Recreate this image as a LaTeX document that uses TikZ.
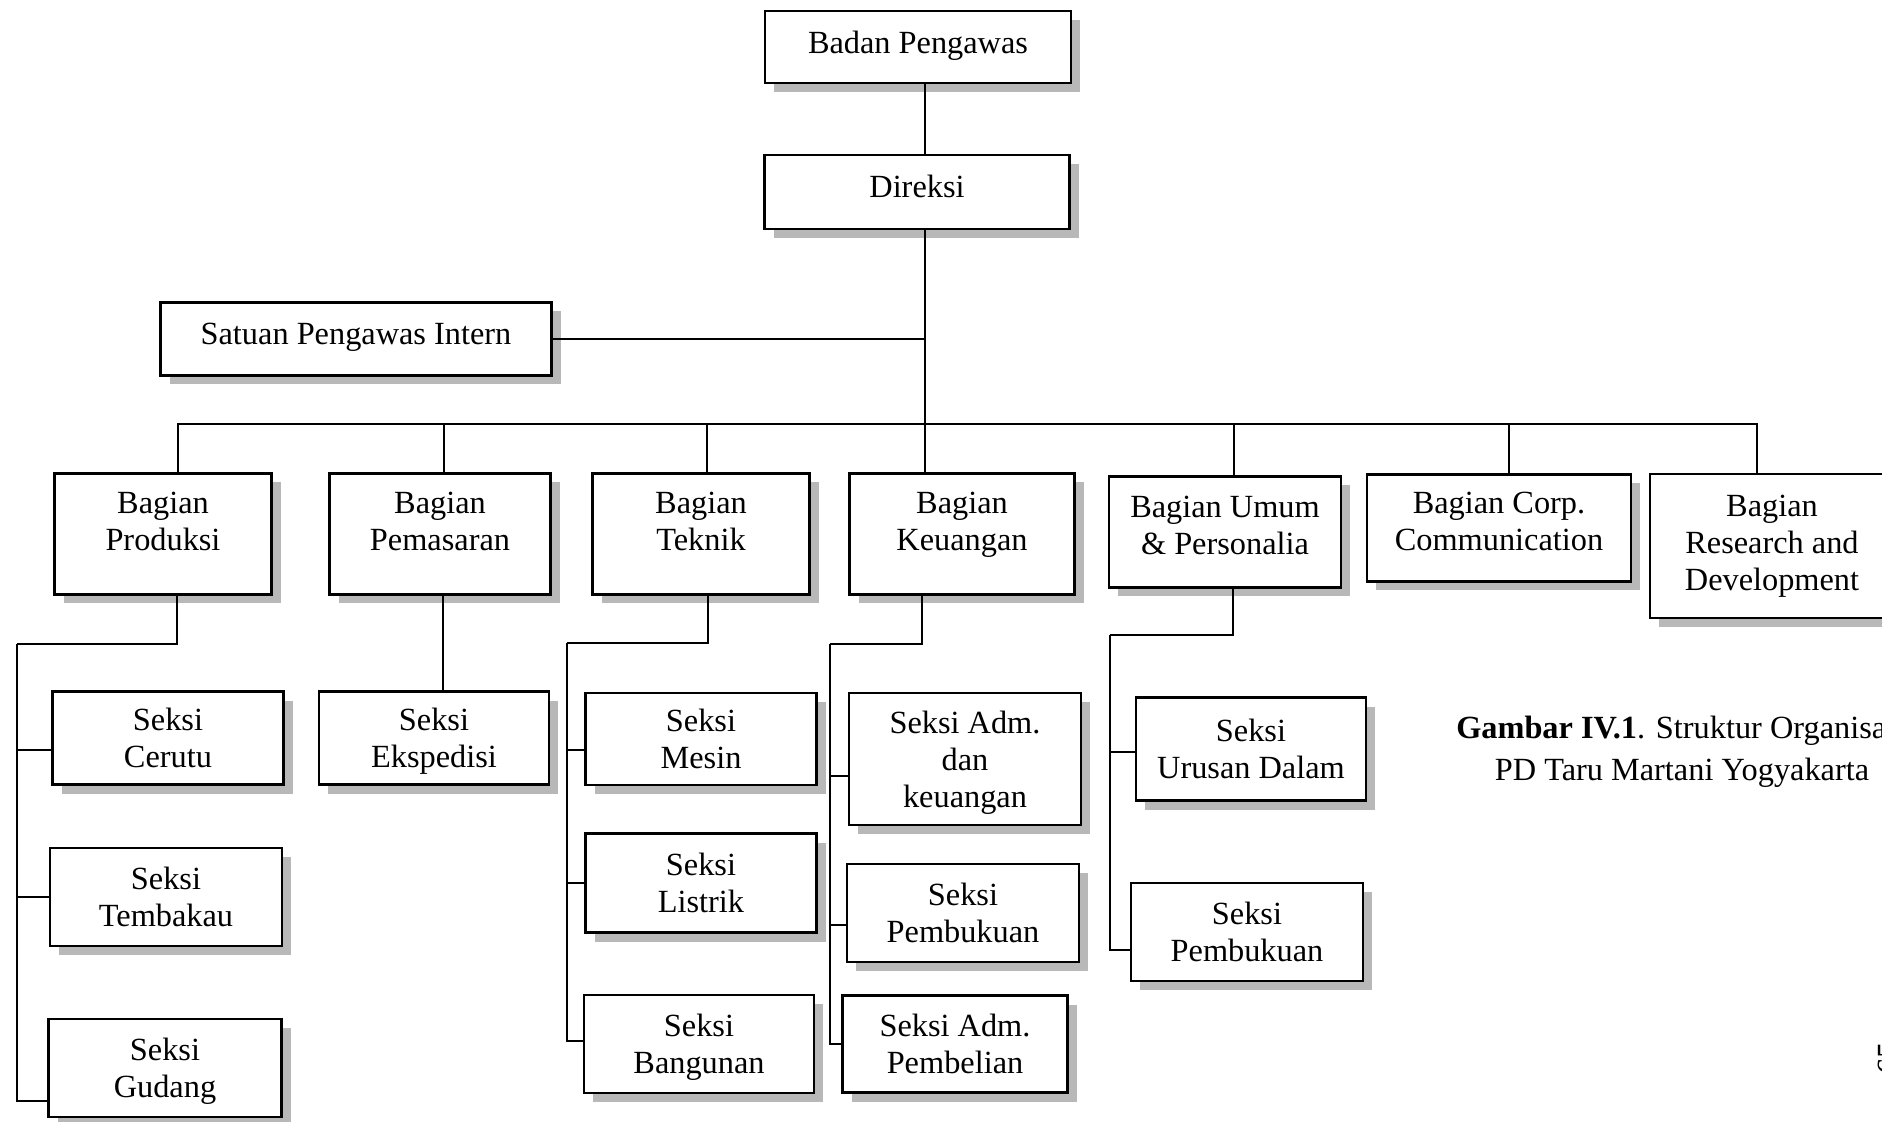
\documentclass[tikz,border=0pt]{standalone}
\usepackage{fontspec}
\setmainfont{Liberation Serif}
\usetikzlibrary{shadows,calc}

\begin{document}
\begin{tikzpicture}[x=.1mm,y=-.1mm,
        box/.style 2 args={draw,line width=.75pt,fill=white,align=center,inner sep=0pt,
            minimum width=#1*.1mm,minimum height=#2*.1mm,text depth=0pt,
            font=\fontsize{9.2}{10.5}\selectfont,
            drop shadow={shadow xshift=.9mm,shadow yshift=-.9mm,fill=black!28,opacity=1}},
        up/.style={text depth=#1},
        up/.default=2.5mm,
        link/.style={line width=.6pt}]
    \useasboundingbox (0,0) rectangle (1882,1122);
    % pimpinan
    \node[box={306}{72},up=1mm] (badan) at (918,47) {Badan Pengawas};
    \node[box={305}{74},up=1.2mm] (direksi) at (917,192) {Direksi};
    \node[box={391}{73},up=1mm] (spi) at (356,339) {Satuan Pengawas Intern};
    % bagian
    \node[box={217}{121},up] (produksi) at (163,534) {Bagian\\Produksi};
    \node[box={221}{121},up] (pemasaran) at (440,534) {Bagian\\Pemasaran};
    \node[box={217}{121},up] (teknik) at (701,534) {Bagian\\Teknik};
    \node[box={225}{121},up] (keuangan) at (962,534) {Bagian\\Keuangan};
    \node[box={232}{111},up=1.3mm] (umum) at (1225,532) {Bagian Umum\\\& Personalia};
    \node[box={264}{107},up=1.3mm] (corp) at (1499,528) {Bagian Corp.\\Communication};
    \node[box={244}{144},up=.6mm] (rnd) at (1772,546) {Bagian\\Research and\\Development};
    % seksi
    \node[box={231}{93}] (cerutu) at (168,738) {Seksi\\Cerutu};
    \node[box={232}{98}] (tembakau) at (166,897) {Seksi\\Tembakau};
    \node[box={233}{98}] (gudang) at (165,1068) {Seksi\\Gudang};
    \node[box={230}{93}] (ekspedisi) at (434,738) {Seksi\\Ekspedisi};
    \node[box={231}{92}] (mesin) at (701,739) {Seksi\\Mesin};
    \node[box={231}{99}] (listrik) at (701,883) {Seksi\\Listrik};
    \node[box={230}{98}] (bangunan) at (699,1044) {Seksi\\Bangunan};
    \node[box={232}{132}] (admkeu) at (965,759) {Seksi Adm.\\dan\\keuangan};
    \node[box={232}{98}] (bukukeu) at (963,913) {Seksi\\Pembukuan};
    \node[box={225}{97}] (admbeli) at (955,1044) {Seksi Adm.\\Pembelian};
    \node[box={230}{103}] (urusan) at (1251,749) {Seksi\\Urusan Dalam};
    \node[box={232}{98}] (bukuumum) at (1247,932) {Seksi\\Pembukuan};
    % keterangan
    \node[align=center,font=\fontsize{9.2}{11.8}\selectfont] (judul) at (1682,752)
        {\textbf{Gambar IV.1}. Struktur Organisasi\\PD Taru Martani Yogyakarta};
    \node[rotate=90,font=\fontsize{9.2}{10.6}\selectfont] (hal) at (1889,1058) {65};

    % garis
    \coordinate (trunk) at (925,424);
    \coordinate (busL) at (178,424);
    \coordinate (busR) at (1757,424);
    \draw[link] (badan.south -| trunk) -- (direksi.north -| trunk);
    \draw[link] (direksi.south -| trunk) -- (keuangan.north -| trunk);
    \draw[link] (spi.east) -- (spi.east -| trunk);
    \draw[link] (busL |- produksi.north) -- (busL) -- (busR) -- (busR |- rnd.north);
    \foreach \b/\dx in {pemasaran/4,teknik/6,umum/9,corp/10}
        \draw[link] ($(\b.north)+(\dx,0)$) -- ($(\b.north |- busL)+(\dx,0)$);
    % produksi
    \coordinate (prodspine) at (17,644);
    \draw[link] ($(produksi.south)+(14,0)$) |- (prodspine);
    \foreach \s/\dy in {cerutu/12,tembakau/0,gudang/33}
        \draw[link] ($(\s.west)+(0,\dy)$) -| (prodspine);
    % pemasaran
    \draw[link] ($(pemasaran.south)+(3,0)$) -- ($(pemasaran.south |- ekspedisi.north)+(3,0)$);
    % teknik
    \coordinate (tekspine) at (567,643);
    \draw[link] ($(teknik.south)+(7,0)$) |- (tekspine);
    \foreach \s/\dy in {mesin/11,listrik/0,bangunan/-3}
        \draw[link] ($(\s.west)+(0,\dy)$) -| (tekspine);
    % keuangan
    \coordinate (keuspine) at (830,644);
    \draw[link] ($(keuangan.south)+(-40,0)$) |- (keuspine);
    \foreach \s/\dy in {admkeu/17,bukukeu/12,admbeli/0}
        \draw[link] ($(\s.west)+(0,\dy)$) -| (keuspine);
    % umum
    \coordinate (umumspine) at (1110,635);
    \draw[link] ($(umum.south)+(8,0)$) |- (umumspine);
    \foreach \s/\dy in {urusan/3,bukuumum/18}
        \draw[link] ($(\s.west)+(0,\dy)$) -| (umumspine);
\end{tikzpicture}
\end{document}
